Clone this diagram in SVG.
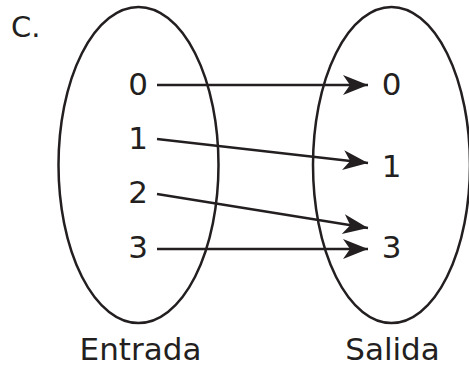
<svg xmlns="http://www.w3.org/2000/svg" width="469" height="370" viewBox="0 0 469 370">
<style>
.set{fill:none;stroke:#231f20;stroke-width:2.5}
.lbl{font-family:"DejaVu Sans",Verdana,sans-serif;font-size:31px;fill:#231f20;text-anchor:middle}
.edge{stroke:#231f20;stroke-width:2.5;fill:none}
</style>
<defs>
<marker id="ah" markerUnits="userSpaceOnUse" markerWidth="28" markerHeight="24" refX="26" refY="11" orient="auto">
<path d="M26,11 L1,1 L8,11 L1,21 Z" fill="#231f20"/>
</marker>
</defs>
<rect width="469" height="370" fill="#fff"/>
<text x="11" y="37" class="lbl" style="text-anchor:start;font-size:29px">C.</text>
<g id="entrada">
<ellipse class="set" cx="138.5" cy="165" rx="80" ry="158"/>
<text x="140.5" y="360" class="lbl">Entrada</text>
</g>
<g id="salida">
<ellipse class="set" cx="391.5" cy="165" rx="78.5" ry="158"/>
<text x="392.5" y="360" class="lbl">Salida</text>
</g>
<g id="in0"><text x="138" y="95" class="lbl">0</text></g>
<g id="in1"><text x="138" y="149" class="lbl">1</text></g>
<g id="in2"><text x="138" y="203" class="lbl">2</text></g>
<g id="in3"><text x="138" y="258" class="lbl">3</text></g>
<g id="out0"><text x="391.5" y="95" class="lbl">0</text></g>
<g id="out1"><text x="391.5" y="177" class="lbl">1</text></g>
<g id="out3"><text x="391.5" y="258" class="lbl">3</text></g>
<g id="connectors">
<line class="edge" x1="157" y1="85" x2="368" y2="85" marker-end="url(#ah)"/>
<line class="edge" x1="157" y1="139" x2="368" y2="163" marker-end="url(#ah)"/>
<line class="edge" x1="157" y1="194" x2="368" y2="228" marker-end="url(#ah)"/>
<line class="edge" x1="157" y1="249" x2="368" y2="249" marker-end="url(#ah)"/>
</g>
</svg>
